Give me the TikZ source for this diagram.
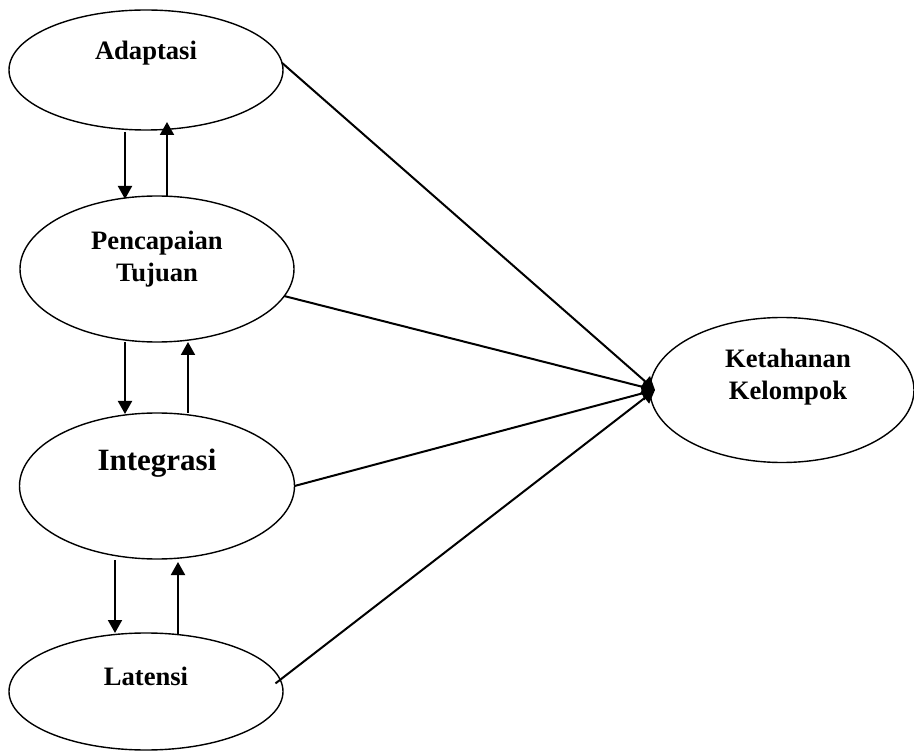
\documentclass[tikz,border=0pt]{standalone}
\usepackage{fontspec}
\setmainfont{Liberation Serif}
\usetikzlibrary{shapes.geometric,arrows.meta,calc}
\begin{document}
\begin{tikzpicture}[x=1pt,y=-1pt,
  ell/.style={draw, ellipse, line width=1.4pt, inner sep=0pt, outer sep=0pt},
  txt/.style={font=\bfseries\fontsize{26.6}{32}\selectfont, align=center, inner sep=0pt},
  bigtxt/.style={font=\bfseries\fontsize{31}{37}\selectfont, align=center, inner sep=0pt},
  arr/.style={line width=2pt, -{Triangle[width=14pt,length=13pt]}}
  ]
\useasboundingbox (0,0) rectangle (914,751);
% ellipses
\node[ell, minimum width=274pt, minimum height=120pt] (A) at (146,70) {};
\node[ell, minimum width=274pt, minimum height=146pt] (P) at (157,269) {};
\node[ell, minimum width=275pt, minimum height=146pt] (I) at (157,486) {};
\node[ell, minimum width=274pt, minimum height=117pt] (L) at (146,691.5) {};
\node[ell, minimum width=264pt, minimum height=145pt] (K) at (782,390) {};
% texts
\node[txt] (At) at ([yshift=17pt]A.center) {Adaptasi};
\node[txt] (Pt) at ([yshift=10pt]P.center) {Pencapaian\\Tujuan};
\node[bigtxt] (It) at ([yshift=23pt]I.center) {Integrasi};
\node[txt] (Lt) at ([yshift=15.5pt]L.center) {Latensi};
\node[txt] (Kt) at ([xshift=6pt,yshift=12.5pt]K.center) {Ketahanan\\Kelompok};
% vertical arrows
\draw[arr] ([xshift=-21pt,yshift=-2pt]A.south) -- ([xshift=-32pt,yshift=-3pt]P.north);
\draw[arr] ([xshift=10pt]P.north) -- ([xshift=21pt,yshift=8pt]A.south);
\draw[arr] ([xshift=-32pt]P.south) -- ([xshift=-32pt,yshift=-1pt]I.north);
\draw[arr] ([xshift=31pt]I.north) -- ([xshift=31pt]P.south);
\draw[arr] ([xshift=-42pt,yshift=-1pt]I.south) -- ([xshift=-31pt]L.north);
\draw[arr] ([xshift=32pt,yshift=-2pt]L.north) -- ([xshift=21pt,yshift=-3pt]I.south);
% diagonal arrows
\coordinate (Kin) at ([xshift=5pt]K.west);
\draw[arr] (A.3.5) -- (Kin);
\draw[arr] (P.-12) -- (Kin);
\draw[arr] (I.east) -- (Kin);
\draw[arr, shorten <=-6pt] (L.5) -- (Kin);
\end{tikzpicture}
\end{document}
